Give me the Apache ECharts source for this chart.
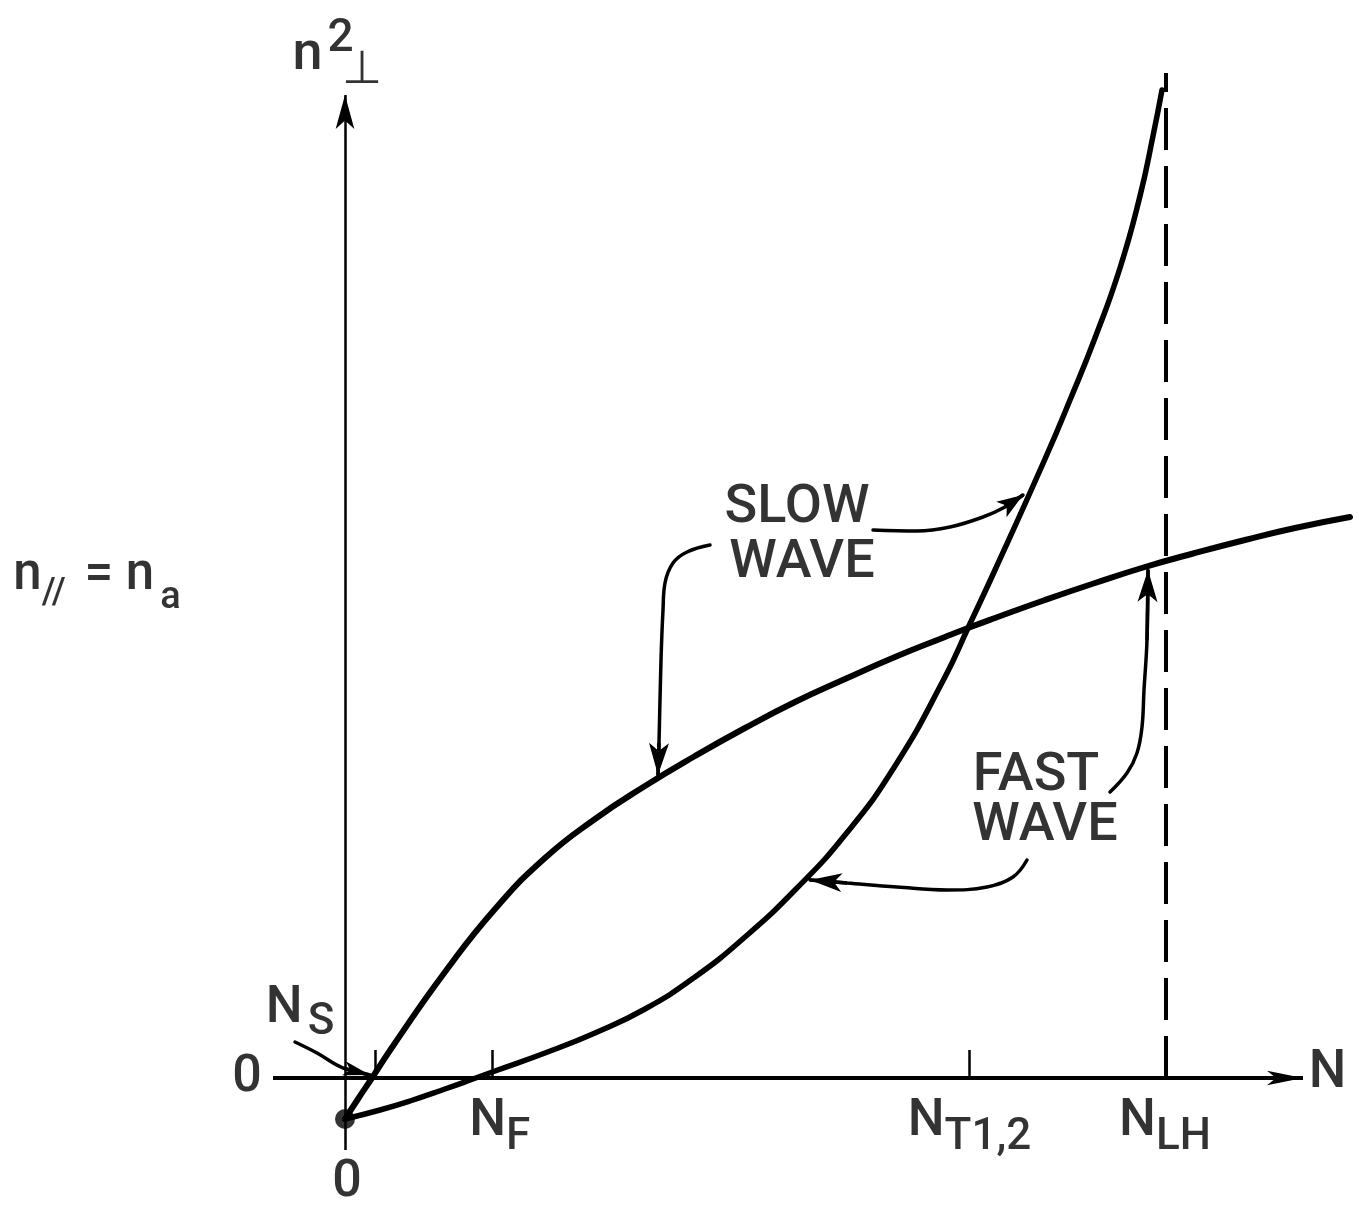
<!DOCTYPE html>
<html>
<head>
<meta charset="utf-8">
<title>n⊥² versus N</title>
<script src="https://cdn.jsdelivr.net/npm/echarts@6/dist/echarts.min.js"></script>
<style>
  html, body { margin: 0; padding: 0; background: #fff; }
  #chart { width: 1359px; height: 1205px; }
</style>
</head>
<body>
<div id="chart"></div>
<script>
// Perpendicular index n⊥² of the two wave branches versus density N
// (n∥ = n_a held fixed). Schematic units.

// Critical densities marked on the N axis
const criticalDensities = [0.30, 1.47, 6.24, 8.21];
const criticalNames = ['S', 'F', 'T1,2', 'LH'];

// Branch through N_S: rises fast, then flattens out past the crossing
const branchA = [
  [0.00, -0.41], [0.13, -0.21], [0.27, 0.00], [0.50, 0.35], [1.00, 1.06],
  [1.50, 1.69], [2.00, 2.20], [2.50, 2.59], [3.00, 2.92], [3.50, 3.22],
  [4.00, 3.50], [4.50, 3.76], [5.00, 3.99], [5.50, 4.21], [6.00, 4.41],
  [6.23, 4.50], [6.50, 4.60], [7.00, 4.78], [7.50, 4.95], [8.00, 5.11],
  [8.50, 5.25], [9.00, 5.38], [9.50, 5.50], [10.05, 5.61]
];

// Branch through N_F: slow start, then steepens towards the N_LH resonance
const branchB = [
  [0.00, -0.41], [0.35, -0.32], [0.65, -0.23], [1.00, -0.11], [1.28, -0.01],
  [1.50, 0.07], [2.00, 0.25], [2.50, 0.45], [3.00, 0.69], [3.50, 1.01],
  [4.00, 1.41], [4.50, 1.88], [5.00, 2.43], [5.50, 3.12], [6.00, 4.01],
  [6.23, 4.50], [6.50, 5.08], [7.00, 6.19], [7.25, 6.78], [7.50, 7.40],
  [7.75, 8.10], [7.95, 8.82], [8.08, 9.42], [8.17, 9.88]
];

// Common starting point of both branches at N = 0
const startPoint = [0.00, -0.41];

// Lower-hybrid resonance asymptote
const lhResonance = 8.21;
const lhTop = 10.05;

// Extent of the drawn N and n⊥² axes
const nAxisSpan = [-0.72, 9.58];
const nPerpAxisSpan = [-0.72, 9.83];

// ---------------------------------------------------------------------------

const FONT = "Roboto, 'DejaVu Sans', sans-serif";
const INK = '#000';
const WEIGHT = 500;

// Leader arrows from the captions to the branches
const leaders = {
  slowUpper: [[5.28, 5.48], [5.72, 5.47], [6.05, 5.51], [6.38, 5.61], [6.60, 5.71], [6.78, 5.83]],
  slowLower: [[3.65, 5.33], [3.42, 5.26], [3.28, 5.15], [3.20, 4.95], [3.18, 4.68], [3.16, 4.18], [3.14, 3.35], [3.13, 3.03]],
  fastUpper: [[7.65, 2.86], [7.82, 3.05], [7.92, 3.25], [7.97, 3.51], [7.99, 3.88], [8.02, 4.38], [8.03, 5.08]],
  fastLower: [[6.82, 2.18], [6.68, 2.01], [6.42, 1.91], [6.02, 1.88], [5.52, 1.91], [5.02, 1.95], [4.65, 1.98]],
  nsPointer: [[-0.50, 0.36], [-0.28, 0.25], [-0.02, 0.10], [0.25, 0.03]]
};

function arrowLine(from, to, width, head) {
  return {
    type: 'line',
    data: [from],
    symbol: 'none',
    silent: true,
    z: 3,
    markLine: {
      silent: true,
      symbol: ['none', 'arrow'],
      symbolSize: head,
      label: { show: false },
      lineStyle: { color: INK, width: width, type: 'solid', cap: 'butt' },
      itemStyle: { color: INK },
      emphasis: { disabled: true },
      data: [[{ coord: from }, { coord: to }]]
    }
  };
}

function leaderSeries(path, head) {
  const n = path.length;
  const s = arrowLine(path[n - 2], path[n - 1], 3.5, head);
  s.data = path;
  s.smooth = 0.4;
  s.lineStyle = { color: INK, width: 3.5, cap: 'round' };
  return s;
}

function textItem(coord, formatter, extra) {
  return {
    value: coord,
    label: Object.assign({
      show: true,
      position: 'inside',
      formatter: formatter,
      fontFamily: FONT,
      fontWeight: WEIGHT,
      fontSize: 54,
      color: INK
    }, extra || {})
  };
}

function tok(size, drop, shift) {
  return {
    fontFamily: FONT, fontWeight: WEIGHT, fontSize: size, lineHeight: size,
    verticalAlign: 'top', padding: [drop || 0, 0, 0, shift || 0], color: INK
  };
}

// N with a lowered subscript
function subscriptRich(drop, shift) {
  return { N: tok(52), s: tok(44, drop, shift) };
}

function densityLabel(i, dx) {
  return textItem([criticalDensities[i] + dx, -0.44], '{N|N}{s|' + criticalNames[i] + '}', { rich: subscriptRich(20, 0) });
}

const captionItems = [
  textItem([4.52, 5.70], 'SLOW'),
  textItem([4.57, 5.15], 'WAVE'),
  textItem([6.91, 3.02], 'FAST'),
  textItem([7.00, 2.52], 'WAVE'),
  textItem([-0.45, 0.69], '{N|N}{s|' + criticalNames[0] + '}', { rich: subscriptRich(18, 5) }),
  densityLabel(1, 0.077),
  densityLabel(2, 0.005),
  densityLabel(3, -0.01),
  textItem([0.02, -1.045], '0', { fontSize: 52 }),
  textItem([-0.98, 0.00], '0', { fontSize: 52 }),
  textItem([9.825, 0.04], 'N', { fontSize: 53 }),
  textItem([-2.48, 5.02], '{n|n}{p|//} {e|=} {n|n}{a|a}', {
    fontSize: 51,
    rich: { n: tok(51), e: tok(51, 0, 6), p: tok(36, 25, 0), a: tok(38, 29, 6) }
  }),
  textItem([-0.22, 10.35], '{n|n}{t|2}', {
    rich: { n: tok(54, 12, 0), t: tok(46, 0, 5) }
  }),
  textItem([0.17, 10.065], '⊥', { fontFamily: "'DejaVu Sans', sans-serif", fontWeight: 'normal', fontSize: 46 })
];

const option = {
  animation: false,
  backgroundColor: '#fff',
  grid: { left: 0, right: 0, top: 0, bottom: 0, containLabel: false, outerBoundsMode: 'none' },
  xAxis: {
    type: 'value',
    min: -3.45,
    max: 10.14,
    splitLine: { show: false },
    axisLine: { show: false, onZero: true },
    axisTick: {
      show: true,
      inside: true,
      length: 28,
      customValues: criticalDensities,
      lineStyle: { color: INK, width: 2.5 }
    },
    axisLabel: { show: false }
  },
  yAxis: {
    type: 'value',
    min: -1.27,
    max: 10.78,
    splitLine: { show: false },
    axisLine: { show: false, onZero: true },
    axisTick: { show: false },
    axisLabel: { show: false }
  },
  series: [
    // N axis and n⊥² axis with arrowheads
    arrowLine([nAxisSpan[0], 0], [nAxisSpan[1], 0], 4, [11, 36]),
    arrowLine([0, nPerpAxisSpan[0]], [0, nPerpAxisSpan[1]], 2.5, [14, 34]),
    {
      name: 'lh-resonance',
      type: 'line',
      data: [[lhResonance, 0], [lhResonance, lhTop]],
      symbol: 'none',
      silent: true,
      z: 2,
      lineStyle: { color: INK, width: 4, type: [42, 16] }
    },
    {
      name: 'branch-A',
      type: 'line',
      data: branchA,
      smooth: 0.5,
      symbol: 'none',
      silent: true,
      z: 4,
      lineStyle: { color: INK, width: 6, cap: 'round', join: 'round' }
    },
    {
      name: 'branch-B',
      type: 'line',
      data: branchB,
      smooth: 0.5,
      symbol: 'none',
      silent: true,
      z: 4,
      lineStyle: { color: INK, width: 5.5, cap: 'round', join: 'round' }
    },
    {
      name: 'start',
      type: 'scatter',
      data: [startPoint],
      symbol: 'circle',
      symbolSize: 20,
      silent: true,
      z: 5,
      itemStyle: { color: INK }
    },
    leaderSeries(leaders.slowUpper, [14, 26]),
    leaderSeries(leaders.slowLower, [15, 32]),
    leaderSeries(leaders.fastUpper, [15, 32]),
    leaderSeries(leaders.fastLower, [14, 32]),
    leaderSeries(leaders.nsPointer, [11, 27]),
    {
      name: 'captions',
      type: 'scatter',
      data: captionItems,
      symbolSize: 1,
      silent: true,
      z: 6,
      itemStyle: { color: 'rgba(0,0,0,0)' }
    }
  ]
};

const chart = echarts.init(document.getElementById('chart'), null, { renderer: 'canvas' });
chart.setOption(option);
</script>
</body>
</html>
